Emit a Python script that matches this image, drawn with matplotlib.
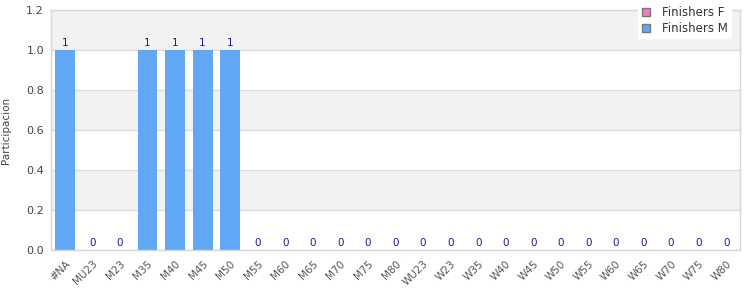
import matplotlib
matplotlib.use("Agg")
import matplotlib.pyplot as plt
import numpy as np
from matplotlib.patches import Patch

categories = ["#NA", "MU23", "M23", "M35", "M40", "M45", "M50", "M55", "M60", "M65",
              "M70", "M75", "M80", "WU23", "W23", "W35", "W40", "W45", "W50", "W55",
              "W60", "W65", "W70", "W75", "W80"]
finishers_m = [1, 0, 0, 1, 1, 1, 1, 0, 0, 0, 0, 0, 0, 0, 0, 0, 0, 0, 0, 0, 0, 0, 0, 0, 0]
finishers_f = [0] * len(categories)
yticks = [0.0, 0.2, 0.4, 0.6, 0.8, 1.0, 1.2]

plt.rcParams['font.family'] = ['DejaVu Sans']
fig = plt.figure(figsize=(7.5, 3.0), dpi=100)
ax = fig.add_axes([51/750, 50/300, 689/750, 240/300])

n = len(categories)
x = np.arange(n)
ax.set_xlim(-0.5, n - 0.5)
ax.set_ylim(0, 1.2)

# alternating bands
for i in range(len(yticks) - 1):
    if i % 2 == 1:
        ax.axhspan(yticks[i], yticks[i + 1], color="#f2f2f2", zorder=0, lw=0)
for y in yticks:
    ax.axhline(y, color="#dcdcdc", lw=1, zorder=1)

ax.bar(x, finishers_f, width=0.72, color="#f07cbf", zorder=2)
bars = ax.bar(x, finishers_m, width=0.72, color="#60a8f5", zorder=2)
for xi, v in zip(x, finishers_m):
    ax.text(xi, v + 0.012, str(v), ha="center", va="bottom", fontsize=7.5,
            color="#1a1a8c", zorder=3)

ax.set_xticks(x)
ax.set_xticklabels(categories, rotation=45, ha="right", rotation_mode="anchor",
                   fontsize=7.5, color="#555555")
ax.set_yticks(yticks)
ax.set_yticklabels([f"{v:.1f}" for v in yticks], fontsize=8, color="#444444")
ax.tick_params(axis="both", length=0, pad=5)
ax.tick_params(axis="x", pad=6)
for s in ax.spines.values():
    s.set_color("#d6d6d6")
    s.set_linewidth(1)
ax.set_ylabel("Participacion", fontsize=7.5, color="#444444", labelpad=11)

handles = [Patch(facecolor="#f07cbf", edgecolor="#777777", label="Finishers F"),
           Patch(facecolor="#60a8f5", edgecolor="#777777", label="Finishers M")]
leg = fig.legend(handles=handles, loc="upper right", bbox_to_anchor=(737/750, 1.01),
                 fontsize=8.5, frameon=True, fancybox=False, framealpha=1,
                 edgecolor="white", handlelength=0.7, handleheight=0.7,
                 borderpad=0.3, labelspacing=0.2, handletextpad=1.0)
for t in leg.get_texts():
    t.set_color("#333333")

fig.savefig("out.png", dpi=100)
